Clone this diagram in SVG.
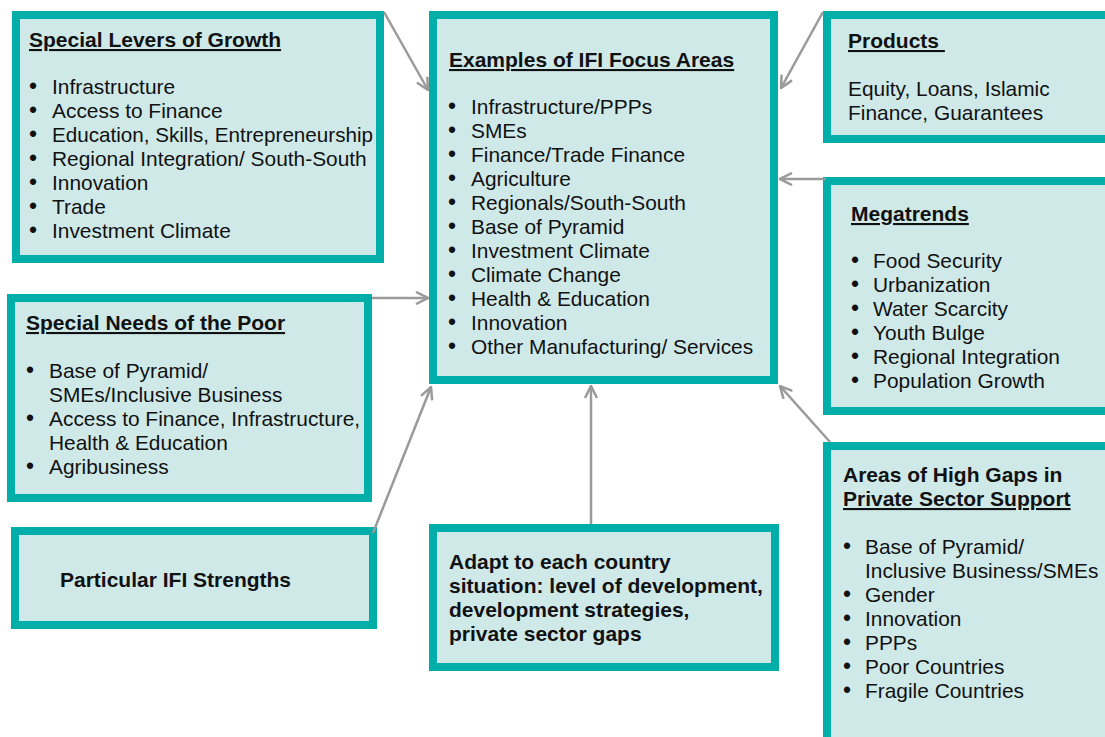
<svg xmlns="http://www.w3.org/2000/svg" width="1105" height="737" viewBox="0 0 1105 737">
<style>
.box{fill:#cfe9e8;stroke:#00aea9;stroke-width:8}
text{font-family:"Liberation Sans",Arial,sans-serif;font-size:20.9px;fill:#111}
.t{font-weight:bold;font-size:21px}
.u{text-decoration:underline}
.b{font-size:23px}
.c{stroke:#9a9a9a;stroke-width:2.5;fill:none;marker-end:url(#ah)}
</style>
<defs>
<marker id="ah" viewBox="0 0 14 14" refX="13" refY="7" markerWidth="14" markerHeight="14" markerUnits="userSpaceOnUse" orient="auto">
<path d="M1,1 L13,7 L1,13" fill="none" stroke="#9a9a9a" stroke-width="2.5"/>
</marker>
</defs>
<rect width="1105" height="737" fill="#fff"/>
<g id="levers">
<rect class="box" x="16" y="15" width="364" height="244"/>
<text x="29" y="47" class="t u">Special Levers of Growth</text>
<text x="29" y="94" class="b">•</text><text x="52" y="94">Infrastructure</text>
<text x="29" y="118" class="b">•</text><text x="52" y="118">Access to Finance</text>
<text x="29" y="142" class="b">•</text><text x="52" y="142" textLength="321" lengthAdjust="spacingAndGlyphs">Education, Skills, Entrepreneurship</text>
<text x="29" y="166" class="b">•</text><text x="52" y="166">Regional Integration/ South-South</text>
<text x="29" y="190" class="b">•</text><text x="52" y="190">Innovation</text>
<text x="29" y="214" class="b">•</text><text x="52" y="214">Trade</text>
<text x="29" y="238" class="b">•</text><text x="52" y="238">Investment Climate</text>
</g>
<g id="focus">
<rect class="box" x="433" y="15" width="341" height="365"/>
<text x="449" y="67" class="t u">Examples of IFI Focus Areas</text>
<text x="448" y="114" class="b">•</text><text x="471" y="114">Infrastructure/PPPs</text>
<text x="448" y="138" class="b">•</text><text x="471" y="138">SMEs</text>
<text x="448" y="162" class="b">•</text><text x="471" y="162">Finance/Trade Finance</text>
<text x="448" y="186" class="b">•</text><text x="471" y="186">Agriculture</text>
<text x="448" y="210" class="b">•</text><text x="471" y="210">Regionals/South-South</text>
<text x="448" y="234" class="b">•</text><text x="471" y="234">Base of Pyramid</text>
<text x="448" y="258" class="b">•</text><text x="471" y="258">Investment Climate</text>
<text x="448" y="282" class="b">•</text><text x="471" y="282">Climate Change</text>
<text x="448" y="306" class="b">•</text><text x="471" y="306">Health &amp; Education</text>
<text x="448" y="330" class="b">•</text><text x="471" y="330">Innovation</text>
<text x="448" y="354" class="b">•</text><text x="471" y="354">Other Manufacturing/ Services</text>
</g>
<g id="products">
<rect class="box" x="827" y="15" width="300" height="124"/>
<text x="848" y="48" class="t u" xml:space="preserve">Products </text>
<text x="848" y="96">Equity, Loans, Islamic</text>
<text x="848" y="120">Finance, Guarantees</text>
</g>
<g id="megatrends">
<rect class="box" x="827" y="181" width="300" height="230"/>
<text x="851" y="221" class="t u">Megatrends</text>
<text x="851" y="268" class="b">•</text><text x="873" y="268">Food Security</text>
<text x="851" y="292" class="b">•</text><text x="873" y="292">Urbanization</text>
<text x="851" y="316" class="b">•</text><text x="873" y="316">Water Scarcity</text>
<text x="851" y="340" class="b">•</text><text x="873" y="340">Youth Bulge</text>
<text x="851" y="364" class="b">•</text><text x="873" y="364">Regional Integration</text>
<text x="851" y="388" class="b">•</text><text x="873" y="388">Population Growth</text>
</g>
<g id="needs">
<rect class="box" x="11" y="298" width="357" height="200"/>
<text x="26" y="330" class="t u">Special Needs of the Poor</text>
<text x="26" y="378" class="b">•</text><text x="49" y="378">Base of Pyramid/</text>
<text x="49" y="402">SMEs/Inclusive Business</text>
<text x="26" y="426" class="b">•</text><text x="49" y="426">Access to Finance, Infrastructure,</text>
<text x="49" y="450">Health &amp; Education</text>
<text x="26" y="474" class="b">•</text><text x="49" y="474">Agribusiness</text>
</g>
<g id="strengths">
<rect class="box" x="15" y="531" width="358" height="94"/>
<text x="60" y="587" class="t">Particular IFI Strengths</text>
</g>
<g id="adapt">
<rect class="box" x="433" y="528" width="342" height="139"/>
<text x="449" y="569" class="t">Adapt to each country</text>
<text x="449" y="593" class="t">situation: level of development,</text>
<text x="449" y="617" class="t">development strategies,</text>
<text x="449" y="641" class="t">private sector gaps</text>
</g>
<g id="gaps">
<rect class="box" x="827" y="446" width="300" height="320"/>
<text x="843" y="482" class="t">Areas of High Gaps in</text>
<text x="843" y="506" class="t u">Private Sector Support</text>
<text x="843" y="554" class="b">•</text><text x="865" y="554">Base of Pyramid/</text>
<text x="865" y="578">Inclusive Business/SMEs</text>
<text x="843" y="602" class="b">•</text><text x="865" y="602">Gender</text>
<text x="843" y="626" class="b">•</text><text x="865" y="626">Innovation</text>
<text x="843" y="650" class="b">•</text><text x="865" y="650">PPPs</text>
<text x="843" y="674" class="b">•</text><text x="865" y="674">Poor Countries</text>
<text x="843" y="698" class="b">•</text><text x="865" y="698">Fragile Countries</text>
</g>
<g id="connectors">
<line class="c" x1="384" y1="12" x2="428" y2="90"/>
<line class="c" x1="823" y1="12" x2="781" y2="88"/>
<line class="c" x1="826" y1="179" x2="780" y2="179"/>
<line class="c" x1="372" y1="298" x2="428" y2="298"/>
<line class="c" x1="373" y1="533" x2="431" y2="387"/>
<line class="c" x1="591" y1="524" x2="591" y2="386"/>
<line class="c" x1="830" y1="442" x2="780" y2="386"/>
</g>
</svg>
